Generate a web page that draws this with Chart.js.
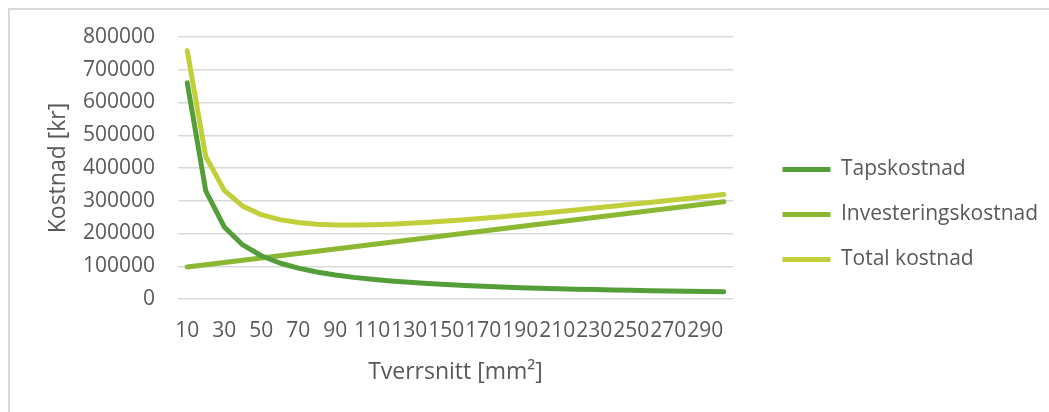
<!DOCTYPE html>
<html>
<head>
<meta charset="utf-8">
<script src="https://cdn.jsdelivr.net/npm/chart.js@4.4.1/dist/chart.umd.min.js"></script>
<style>
  html, body { margin: 0; padding: 0; background: #ffffff; overflow: hidden; }
  #frame {
    position: absolute; left: 8px; top: 8px; width: 1200px; height: 600px;
    border-left: 2px solid #d9d9d9; border-top: 2px solid #d9d9d9;
  }
  #chart { position: absolute; left: 0; top: 0; }
</style>
</head>
<body>
<div id="frame"></div>
<canvas id="chart" width="1049" height="412"></canvas>
<script>
// Cross-section sizes (mm²)
const tverrsnitt = [10, 20, 30, 40, 50, 60, 70, 80, 90, 100,
  110, 120, 130, 140, 150, 160, 170, 180, 190, 200,
  210, 220, 230, 240, 250, 260, 270, 280, 290, 300];

// Loss cost (kr)
const tapskostnad = [660000, 330000, 220000, 165000, 132000, 110000, 94300, 82500, 73300, 66000,
  60000, 55000, 50800, 47100, 44000, 41300, 38800, 36700, 34700, 33000,
  31400, 30000, 28700, 27500, 26400, 25400, 24400, 23600, 22800, 22000];

// Investment cost (kr)
const investeringskostnad = [98000, 104900, 111700, 118600, 125400, 132300, 139200, 146000, 152900, 159700,
  166600, 173500, 180300, 187200, 194000, 200900, 207800, 214600, 221500, 228300,
  235200, 242100, 248900, 255800, 262600, 269500, 276400, 283200, 290100, 296900];

// Total cost (kr)
const totalKostnad = [758000, 434900, 331700, 283600, 257400, 242300, 233500, 228500, 226200, 225700,
  226600, 228500, 231100, 234300, 238000, 242200, 246600, 251300, 256200, 261300,
  266600, 272100, 277600, 283300, 289000, 294900, 300800, 306800, 312900, 318900];

// Value-axis ticks
const yTicks = [0, 100000, 200000, 300000, 400000, 500000, 600000, 700000, 800000];

const textColor = '#595959';
const gridColor = '#d9d9d9';
const fontFamily = '"Open Sans", "Liberation Sans", sans-serif';

// Moves the right-hand legend away from the plot area and lets it use the remaining width
const legendNudge = {
  id: 'legendNudge',
  afterLayout(chart) {
    const lg = chart.legend;
    if (!lg) return;
    lg.left += 25.5;
    lg.right = chart.width;
    lg.width = lg.right - lg.left;
  }
};

function series(label, data, color) {
  return {
    label, data,
    borderColor: color, backgroundColor: color,
    borderWidth: 5, pointRadius: 0, pointHoverRadius: 0,
    borderCapStyle: 'round', borderJoinStyle: 'round',
    tension: 0, fill: false
  };
}

new Chart(document.getElementById('chart'), {
  type: 'line',
  data: {
    labels: tverrsnitt,
    datasets: [
      series('Tapskostnad', tapskostnad, '#549e39'),
      series('Investeringskostnad', investeringskostnad, '#8ab833'),
      series('Total kostnad', totalKostnad, '#c0cf3a')
    ]
  },
  options: {
    responsive: false,
    devicePixelRatio: 1,
    animation: false,
    layout: { padding: { left: 40, right: 116, top: 37, bottom: 20 } },
    plugins: {
      tooltip: { enabled: false },
      legend: {
        position: 'right',
        maxWidth: 200,
        labels: {
          usePointStyle: true,
          pointStyle: 'line',
          pointStyleWidth: 48,
          padding: 24,
          color: textColor,
          font: { family: fontFamily, size: 21 }
        }
      }
    },
    scales: {
      x: {
        offset: true,
        afterFit: axis => { axis.height = 93; },
        grid: { display: false, drawTicks: false },
        border: { display: false },
        ticks: {
          autoSkip: false, maxRotation: 0, minRotation: 0, padding: 19,
          color: textColor, font: { family: fontFamily, size: 21 },
          callback: (v, i) => (i % 2 === 0 ? String(tverrsnitt[i]) : '')
        },
        title: {
          display: true, text: 'Tverrsnitt [mm²]', color: textColor,
          font: { family: fontFamily, size: 23 },
          padding: { top: 0, bottom: 6 }
        }
      },
      y: {
        min: yTicks[0], max: yTicks[yTicks.length - 1],
        afterBuildTicks: axis => { axis.ticks = yTicks.map(v => ({ value: v })); },
        afterFit: axis => { axis.width = 138; },
        grid: { color: gridColor, lineWidth: 1.5, drawTicks: false },
        border: { display: false },
        ticks: {
          padding: 23, color: textColor,
          font: { family: fontFamily, size: 21 },
          callback: v => String(v)
        },
        title: {
          display: true, text: 'Kostnad [kr]', color: textColor,
          font: { family: fontFamily, size: 23 },
          padding: { top: 5, bottom: 0 }
        }
      }
    }
  },
  plugins: [legendNudge]
});
</script>
</body>
</html>
